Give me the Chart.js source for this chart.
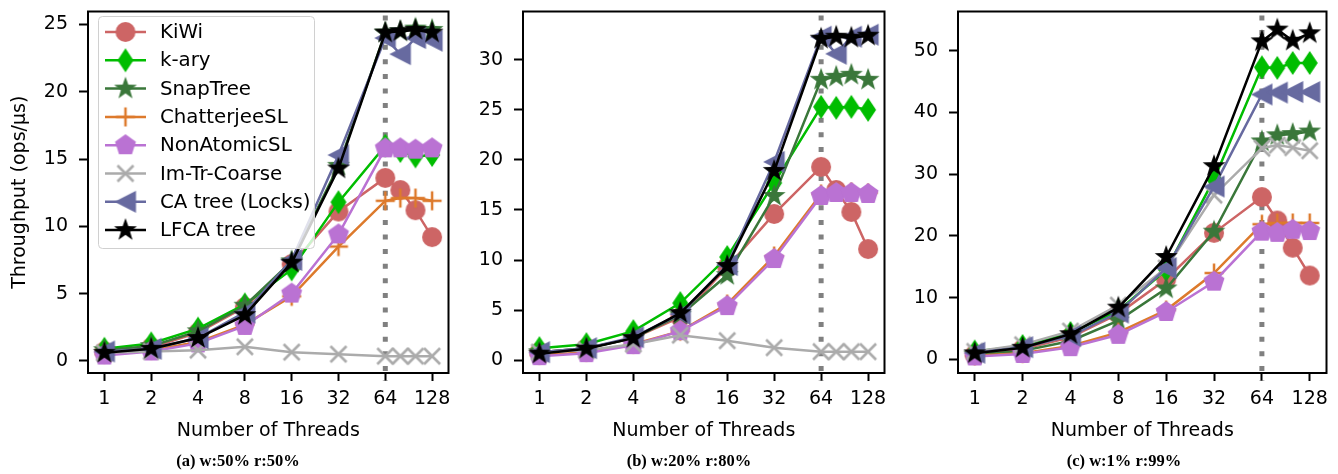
<!DOCTYPE html>
<html>
<head>
<meta charset="utf-8">
<script src="https://cdn.jsdelivr.net/npm/chart.js@4"></script>
<style>
  body { margin: 0; background: #fff; }
  #wrap { position: relative; width: 1338px; height: 474px; background: #fff; overflow: hidden; }
  canvas { position: absolute; top: 0; }
  .cap { position: absolute; top: 451px; width: 300px; text-align: center; font: bold 16.5px "Liberation Serif", "DejaVu Serif", serif; color: #000; }
</style>
</head>
<body>
<div id="wrap">
  <canvas id="chartA" width="460" height="474" style="left:0px"></canvas>
  <canvas id="chartB" width="436" height="474" style="left:460px"></canvas>
  <canvas id="chartC" width="442" height="474" style="left:896px"></canvas>
  <div class="cap" style="left:88px">(a) w:50% r:50%</div>
  <div class="cap" style="left:539px">(b) w:20% r:80%</div>
  <div class="cap" style="left:974px">(c) w:1% r:99%</div>
</div>
<script>
// thread counts (x) and tick labels
const threads = [1, 2, 4, 8, 16, 32, 64, 80, 100, 128];
const threadTicks = [1, 2, 4, 8, 16, 32, 64, 128];

const seriesLabels = ['KiWi', 'k-ary', 'SnapTree', 'ChatterjeeSL', 'NonAtomicSL', 'Im-Tr-Coarse', 'CA tree (Locks)', 'LFCA tree'];
const seriesColors = ['#CD6565', '#00BD00', '#3A773A', '#DD7A2C', '#BA72D3', '#ABABAB', '#676AA0', '#000000'];
const seriesMarkers = ['circle', 'thinDiamond', 'star', 'plus', 'pentagon', 'x', 'triLeft', 'star'];

// (a) w:50% r:50%
const kiwiA   = [0.7, 1.0, 2.1, 4.0, 7.2, 11.1, 13.6, 12.7, 11.2, 9.2];
const karyA   = [0.9, 1.3, 2.4, 4.2, 6.8, 11.8, 16.0, 15.6, 15.2, 15.3];
const snapA   = [0.8, 1.1, 2.2, 4.1, 7.4, 14.5, 24.4, 24.5, 24.7, 24.6];
const chatA   = [0.5, 0.8, 1.4, 2.7, 4.8, 8.5, 11.9, 12.1, 12.1, 11.9];
const nonA    = [0.4, 0.7, 1.3, 2.6, 5.0, 9.4, 15.8, 15.8, 15.7, 15.8];
const imtrA   = [0.6, 0.7, 0.8, 1.05, 0.65, 0.5, 0.35, 0.35, 0.35, 0.35];
const catreeA = [0.7, 0.9, 1.7, 3.6, 7.5, 15.3, 24.0, 22.8, 24.0, 23.8];
const lfcaA   = [0.6, 0.9, 1.7, 3.4, 7.3, 14.3, 24.4, 24.5, 24.6, 24.4];

// (b) w:20% r:80%
const kiwiB   = [0.8, 1.2, 2.2, 4.3, 9.3, 14.6, 19.3, 17.0, 14.8, 11.1];
const karyB   = [1.2, 1.6, 2.9, 5.7, 10.3, 17.7, 25.3, 25.2, 25.3, 25.0];
const snapB   = [0.8, 1.2, 2.2, 4.5, 8.5, 16.4, 28.0, 28.3, 28.5, 28.0];
const chatB   = [0.5, 0.8, 1.6, 2.9, 5.6, 10.4, 16.6, 16.8, 16.8, 16.7];
const nonB    = [0.4, 0.7, 1.5, 2.9, 5.4, 10.1, 16.4, 16.7, 16.7, 16.6];
const imtrB   = [0.8, 1.0, 1.6, 2.5, 1.95, 1.25, 0.85, 0.85, 0.85, 0.85];
const catreeB = [0.8, 1.2, 2.3, 4.6, 9.5, 19.8, 32.3, 30.6, 32.3, 32.5];
const lfcaB   = [0.65, 1.15, 2.2, 4.7, 9.4, 18.9, 32.1, 32.3, 32.2, 32.4];

// (c) w:1% r:99%
const kiwiC   = [0.8, 1.7, 3.6, 7.4, 13.0, 20.5, 26.3, 22.5, 18.1, 13.6];
const karyC   = [1.3, 2.2, 4.3, 7.9, 14.5, 29.2, 47.3, 47.2, 48.0, 48.0];
const snapC   = [0.8, 1.4, 3.0, 6.3, 11.5, 20.7, 35.3, 36.3, 36.5, 36.9];
const chatC   = [0.6, 1.0, 2.2, 4.4, 8.0, 14.0, 21.9, 22.1, 22.1, 22.1];
const nonC    = [0.5, 0.9, 2.0, 4.0, 7.7, 12.6, 20.7, 20.5, 21.0, 20.8];
const imtrC   = [1.3, 2.4, 4.6, 8.8, 14.8, 26.6, 34.2, 34.7, 34.3, 33.8];
const catreeC = [1.1, 2.0, 3.8, 7.6, 14.8, 28.0, 42.9, 43.2, 43.3, 43.3];
const lfcaC   = [1.0, 1.9, 4.1, 8.4, 16.6, 31.3, 51.5, 53.4, 51.6, 52.8];

const yTicksA = [0, 5, 10, 15, 20, 25];
const yTicksB = [0, 5, 10, 15, 20, 25, 30];
const yTicksC = [0, 10, 20, 30, 40, 50];

Chart.defaults.font.family = '"DejaVu Sans", sans-serif';
Chart.defaults.font.size = 19;
Chart.defaults.color = '#000';

// marker images (matplotlib style)
function makeMarker(shape, color) {
  const c = document.createElement('canvas');
  c.width = 28; c.height = 28;
  const g = c.getContext('2d');
  g.translate(14, 14);
  g.fillStyle = color;
  g.strokeStyle = color;
  g.beginPath();
  if (shape === 'circle') {
    g.arc(0, 0, 10, 0, Math.PI * 2);
    g.fill();
  } else if (shape === 'thinDiamond') {
    g.moveTo(0, -12); g.lineTo(8, 0); g.lineTo(0, 12); g.lineTo(-8, 0);
    g.closePath(); g.fill();
  } else if (shape === 'star') {
    for (let i = 0; i < 10; i++) {
      const r = i % 2 === 0 ? 12 : 4.8;
      const a = -Math.PI / 2 + i * Math.PI / 5;
      g.lineTo(r * Math.cos(a), r * Math.sin(a));
    }
    g.closePath(); g.fill();
  } else if (shape === 'pentagon') {
    for (let i = 0; i < 5; i++) {
      const a = -Math.PI / 2 + i * 2 * Math.PI / 5;
      g.lineTo(11 * Math.cos(a), 11 * Math.sin(a));
    }
    g.closePath(); g.fill();
  } else if (shape === 'triLeft') {
    g.moveTo(-11, 0); g.lineTo(10.5, -11); g.lineTo(10.5, 11);
    g.closePath(); g.fill();
  } else if (shape === 'plus') {
    g.lineWidth = 2.5;
    g.moveTo(-9.5, 0); g.lineTo(9.5, 0); g.moveTo(0, -9.5); g.lineTo(0, 9.5);
    g.stroke();
  } else if (shape === 'x') {
    g.lineWidth = 2.6;
    g.moveTo(-8, -8); g.lineTo(8, 8); g.moveTo(-8, 8); g.lineTo(8, -8);
    g.stroke();
  }
  return c;
}
const markerImgs = seriesMarkers.map((m, i) => makeMarker(m, seriesColors[i]));

// dotted line at 64 threads
const vlinePlugin = {
  id: 'vline',
  beforeDatasetsDraw(chart) {
    const { ctx, chartArea } = chart;
    const x = chart.scales.x.getPixelForValue(64);
    ctx.save();
    ctx.strokeStyle = '#808080';
    ctx.lineWidth = 5;
    ctx.setLineDash([5, 9.6]);
    ctx.beginPath();
    ctx.moveTo(x, chartArea.top + 4);
    ctx.lineTo(x, chartArea.bottom + 8);
    ctx.stroke();
    ctx.restore();
  }
};

// black box around plot area
const framePlugin = {
  id: 'frame',
  afterDatasetsDraw(chart) {
    const { ctx, chartArea } = chart;
    ctx.save();
    ctx.strokeStyle = '#000';
    ctx.lineWidth = 2;
    ctx.strokeRect(chartArea.left, chartArea.top, chartArea.right - chartArea.left, chartArea.bottom - chartArea.top);
    ctx.restore();
  }
};

// matplotlib-like legend (line + marker)
const legendPlugin = {
  id: 'mplLegend',
  afterDraw(chart) {
    if (!chart.options.plugins.mplLegend.show) return;
    const ctx = chart.ctx;
    ctx.save();
    ctx.fillStyle = 'rgba(255,255,255,0.8)';
    ctx.strokeStyle = '#d0d0d0';
    ctx.lineWidth = 1;
    ctx.beginPath();
    ctx.roundRect(98.5, 16.5, 216, 232, 4);
    ctx.fill();
    ctx.stroke();
    ctx.font = '19.8px "DejaVu Sans"';
    ctx.textBaseline = 'middle';
    seriesLabels.forEach((lab, i) => {
      const y = 32 + i * 28.3;
      ctx.strokeStyle = seriesColors[i];
      ctx.lineWidth = 2.5;
      ctx.beginPath();
      ctx.moveTo(105, y);
      ctx.lineTo(146, y);
      ctx.stroke();
      const img = markerImgs[i];
      ctx.drawImage(img, 125.5 - img.width / 2, y - img.height / 2);
      ctx.fillStyle = '#000';
      ctx.fillText(lab, 160, y + 1);
    });
    ctx.restore();
  }
};

function makeChart(id, seriesData, yMin, yMax, yTicks, yWidth, padRight, yTitle, showLegend) {
  const datasets = seriesData.map((vals, i) => ({
    label: seriesLabels[i],
    data: threads.map((t, j) => ({ x: t, y: vals[j] })),
    borderColor: seriesColors[i],
    backgroundColor: seriesColors[i],
    borderWidth: 2.5,
    pointStyle: markerImgs[i],
    pointRadius: 9,
    tension: 0,
    fill: false,
    order: seriesData.length - i
  }));
  return new Chart(document.getElementById(id), {
    type: 'line',
    data: { datasets },
    plugins: [vlinePlugin, framePlugin, legendPlugin],
    options: {
      responsive: false,
      animation: false,
      events: [],
      layout: { padding: { top: 6, right: padRight, left: 0, bottom: 0 } },
      plugins: {
        legend: { display: false },
        tooltip: { enabled: false },
        mplLegend: { show: showLegend }
      },
      scales: {
        x: {
          type: 'logarithmic',
          min: Math.pow(2, -0.35),
          max: Math.pow(2, 7.35),
          afterBuildTicks: s => { s.ticks = threadTicks.map(v => ({ value: v })); },
          afterFit: s => { s.height = 101; s.paddingLeft = 0; s.paddingRight = 0; },
          ticks: { autoSkip: false, maxRotation: 0, padding: 7, color: '#000', callback: v => String(v) },
          grid: { drawOnChartArea: false, drawTicks: true, tickLength: 8, tickWidth: 2, tickColor: '#000' },
          border: { display: false },
          title: { display: true, text: 'Number of Threads', color: '#000', padding: { top: 0, bottom: 32 } }
        },
        y: {
          type: 'linear',
          min: yMin,
          max: yMax,
          afterBuildTicks: s => { s.ticks = yTicks.map(v => ({ value: v })); },
          afterFit: s => { s.width = yWidth; s.paddingTop = 0; s.paddingBottom = 0; },
          ticks: { padding: 11, color: '#000' },
          grid: { drawOnChartArea: false, drawTicks: true, tickLength: 9, tickWidth: 2, tickColor: '#000' },
          border: { display: false },
          title: { display: yTitle, text: 'Throughput (ops/μs)', color: '#000', padding: { top: 9, bottom: 0 } }
        }
      }
    }
  });
}

makeChart('chartA', [kiwiA, karyA, snapA, chatA, nonA, imtrA, catreeA, lfcaA], -0.9, 25.97, yTicksA, 88, 3, true, true);
makeChart('chartB', [kiwiB, karyB, snapB, chatB, nonB, imtrB, catreeB, lfcaB], -1.28, 34.82, yTicksB, 63, 3, false, false);
makeChart('chartC', [kiwiC, karyC, snapC, chatC, nonC, imtrC, catreeC, lfcaC], -2.18, 56.33, yTicksC, 62, 11, false, false);
</script>
</body>
</html>
